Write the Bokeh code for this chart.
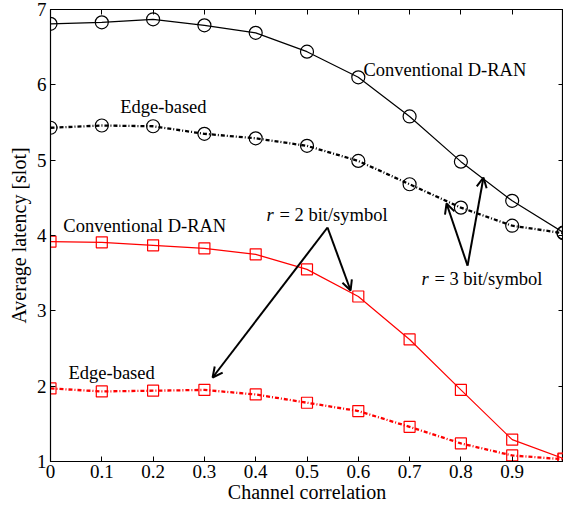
from bokeh.plotting import figure
from bokeh.models import LinearAxis, Arrow, OpenHead, FixedTicker, Range1d
from bokeh.core.properties import value
from bokeh.embed import file_html
from bokeh.resources import INLINE

corr = [0, 0.1, 0.2, 0.3, 0.4, 0.5, 0.6, 0.7, 0.8, 0.9, 1.0]
conv_r3 = [6.81, 6.83, 6.87, 6.79, 6.69, 6.44, 6.10, 5.58, 4.98, 4.46, 4.04]
edge_r3 = [5.43, 5.46, 5.45, 5.35, 5.29, 5.19, 4.99, 4.68, 4.37, 4.13, 4.03]
conv_r2 = [3.92, 3.91, 3.87, 3.83, 3.75, 3.55, 3.19, 2.62, 1.95, 1.29, 1.04]
edge_r2 = [1.97, 1.93, 1.94, 1.95, 1.89, 1.78, 1.67, 1.46, 1.24, 1.08, 1.03]

x_ticks = [0, 0.1, 0.2, 0.3, 0.4, 0.5, 0.6, 0.7, 0.8, 0.9]
x_labels = ["0", "0.1", "0.2", "0.3", "0.4", "0.5", "0.6", "0.7", "0.8", "0.9"]
y_ticks = [1, 2, 3, 4, 5, 6, 7]

FONT = "'Liberation Serif', 'Times New Roman', serif"

p = figure(width=563, height=508, x_range=Range1d(0, 1), y_range=Range1d(1, 7),
           output_backend="svg", toolbar_location=None,
           min_border_left=50, min_border_right=0, min_border_top=9, min_border_bottom=47)
p.background_fill_color = "white"
p.border_fill_color = "white"
p.outline_line_color = "black"
p.outline_line_width = 1.2
p.xgrid.visible = False
p.ygrid.visible = False

p.xaxis.ticker = FixedTicker(ticks=x_ticks)
p.xaxis.major_label_overrides = {t: l for t, l in zip(x_ticks, x_labels)}
p.yaxis.ticker = FixedTicker(ticks=y_ticks)
for ax in (p.xaxis[0], p.yaxis[0]):
    ax.major_tick_in = 5
    ax.major_tick_out = 0
    ax.minor_tick_line_color = None
    ax.axis_line_color = "black"
    ax.major_label_text_font = FONT
    ax.major_label_text_font_size = "19px"
    ax.major_label_text_color = "black"
    ax.axis_label_text_font = FONT
    ax.axis_label_text_font_size = "20px"
    ax.axis_label_text_font_style = "normal"
    ax.axis_label_text_color = "black"
p.xaxis.axis_label = "Channel correlation"
p.yaxis.axis_label = "Average latency [slot]"
p.xaxis.major_label_standoff = 3
p.xaxis.axis_label_standoff = 0
p.yaxis.major_label_standoff = 4
p.yaxis.axis_label_standoff = 4

top = LinearAxis(ticker=FixedTicker(ticks=x_ticks), major_tick_in=5, major_tick_out=0,
                 minor_tick_line_color=None,
                 major_label_overrides={t: "" for t in x_ticks},
                 major_label_standoff=0, axis_line_color=None)
right = LinearAxis(ticker=FixedTicker(ticks=y_ticks), major_tick_in=5, major_tick_out=0,
                   minor_tick_line_color=None,
                   major_label_overrides={t: "" for t in y_ticks},
                   major_label_standoff=0, axis_line_color=None)
p.add_layout(top, "above")
p.add_layout(right, "right")

DASH = "4 2 1 2"

# r = 3 series (black circles)
p.line(corr, conv_r3, line_color="black", line_width=1.2)
p.scatter(corr, conv_r3, marker="circle", size=13, fill_color=None, line_color="black", line_width=1.2)
p.line(corr, edge_r3, line_color="black", line_width=2.3, line_dash=DASH)
p.scatter(corr, edge_r3, marker="circle", size=13, fill_color=None, line_color="black", line_width=1.2)

# r = 2 series (red squares)
p.line(corr, conv_r2, line_color="#ff0000", line_width=1.2)
p.scatter(corr, conv_r2, marker="square", size=11, fill_color=None, line_color="#ff0000", line_width=1.2)
p.line(corr, edge_r2, line_color="#ff0000", line_width=2.3, line_dash=DASH)
p.scatter(corr, edge_r2, marker="square", size=11, fill_color=None, line_color="#ff0000", line_width=1.2)

# text annotations
lab_x = [0.610, 0.136, 0.025, 0.035]
lab_y = [6.20, 5.71, 4.13, 2.17]
lab_t = ["Conventional D-RAN", "Edge-based", "Conventional D-RAN", "Edge-based"]
p.text(lab_x, lab_y, text=lab_t, text_font=value(FONT), text_font_size="18.5px",
       text_color="black", text_baseline="middle", text_align="left")

r_x = [0.421, 0.723]
r_y = [4.27, 3.42]
p.text(r_x, r_y, text=["r", "r"], text_font=value(FONT), text_font_size="18.5px",
       text_font_style="italic", text_color="black", text_baseline="middle", text_align="left")
p.text(r_x, r_y, text=["= 2 bit/symbol", "= 3 bit/symbol"], text_font=value(FONT),
       text_font_size="18.5px", text_color="black", text_baseline="middle", text_align="left",
       x_offset=13)

# arrows
arrows = [
    (0.540, 4.106, 0.585, 3.27),
    (0.540, 4.106, 0.316, 2.115),
    (0.813, 3.60, 0.772, 4.425),
    (0.813, 3.60, 0.844, 4.77),
]
for xs, ys, xe, ye in arrows:
    p.add_layout(Arrow(end=OpenHead(size=10, line_width=2, line_color="black"),
                       x_start=xs, y_start=ys, x_end=xe, y_end=ye,
                       line_width=2, line_color="black"))

open("out.html", "w").write(file_html(p, INLINE))
